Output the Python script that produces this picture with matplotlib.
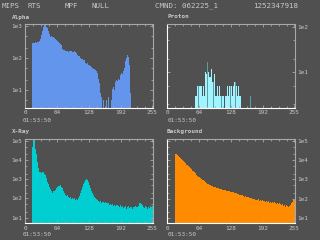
import numpy as np
import matplotlib
matplotlib.use("Agg")
import matplotlib.pyplot as plt
from matplotlib.ticker import FixedLocator, MultipleLocator, LogLocator, NullFormatter

# counts per pair of channels (128 pairs -> channels 0..255)
alpha = ([0] * 7 +
         [290, 300, 295, 310, 305, 315, 320, 330,
          400, 520, 680, 900, 1100, 1050, 950, 880, 700, 580,
          470, 490, 460, 450, 430, 400, 370, 350, 310, 285, 270, 250,
          195, 180, 175, 165, 160, 170, 158, 162, 168, 160, 155, 150, 160, 152, 145,
          125, 118, 112, 100, 95, 90, 84, 88, 72, 66, 69, 62, 60,
          56, 52, 50, 47, 45, 42, 38, 34, 22, 17, 8, 6,
          0, 5, 0, 0, 5, 0, 6, 0, 0, 5,
          11, 12, 10, 18, 20, 19, 22, 21, 30, 35, 32, 40, 50,
          80, 100, 120, 110, 60, 8] +
         [0] * 22)

proton = ([0] * 28 +
          [3, 3, 5, 0, 5, 5, 5, 3, 5, 3,
           10, 9, 0, 10, 8, 8, 12, 6, 5, 9,
           3, 3, 5, 3, 5, 3, 0, 3, 3, 0,
           3, 3, 5, 3, 5, 0, 5, 3, 5, 6,
           0, 5, 3, 5, 3, 3] +
          [0] * 54)

proton_old = ([0] * 31 + [5] + [0] * 8 + [17] + [0] * 5 + [6] + [0] * 7 + [3] +
              [0] * 8 + [5] + [0] * 4 + [6] + [0] * 14 + [3] + [0] * 44)

xray = ([0] * 7 +
        [50000, 200000, 200000, 40000, 20000, 8000, 3700, 2500,
         2300, 2200, 2500, 2400, 2000,
         1700, 1100, 760, 550, 410, 300, 245, 200,
         250, 260, 280, 340, 380, 430, 470, 500, 410, 340, 250, 185, 160, 140, 150,
         120, 105, 125, 95, 110, 90, 100, 85, 95, 80,
         100, 140, 185, 275, 410, 550, 760, 920, 1000, 920, 700, 500, 340, 255, 185,
         150, 125, 100, 94, 83,
         70, 65, 72, 60, 68, 62, 58, 65, 55, 60,
         55, 48, 52, 45, 50, 42, 48, 40, 46, 44,
         42, 38, 45, 35, 40, 33, 38, 42, 30, 36, 40, 32, 38, 35, 30, 34,
         36, 40, 34, 38, 42, 55, 60, 50, 45,
         38, 32, 40, 35, 30, 38, 33, 40, 36, 42])

background = ([0] * 8 +
              [20000, 19500, 17500, 15500, 13700, 12200, 11000, 9600, 8600, 7600,
               6700, 5900, 5300, 4700, 4200, 3700, 3300, 2900, 2600, 2300,
               2050, 1800, 1600, 1420, 1300, 1150, 1070, 960, 890, 820,
               730, 670, 620, 570, 530, 510, 470, 450, 420, 400, 390, 370, 355,
               350, 330, 340, 310, 300, 290, 295, 275, 265, 270, 250, 245,
               240, 230, 215, 225, 200, 195, 205, 180, 175, 165,
               160, 150, 155, 140, 130, 138, 125, 118, 122, 110, 105, 112, 98,
               95, 102, 88, 92, 85, 96, 80, 86, 78, 90, 75, 82, 72,
               78, 70, 74, 65, 72, 62, 68, 58, 66, 60, 55, 64, 52, 58,
               55, 48, 52, 44, 50, 40, 47, 42, 38, 45,
               50, 62, 70, 85, 90])

header = [("MIPS", 2), ("RTS", 28), ("MPF", 65), ("NULL", 92),
          ("CMND: 062225_1", 155), ("1252347918", 253)]
time_label = "01:53:50"
xticks = [0, 64, 128, 192, 255]

BG = "#505050"
TXT = "#c8c8c8"
FRAME = "#a8a8a8"
MONO = "DejaVu Sans Mono"

fig = plt.figure(figsize=(3.2, 2.4), dpi=100, facecolor=BG)
W, H = 320.0, 240.0


def add_panel(x0, y0, x1, y1):
    return fig.add_axes([x0 / W, 1 - y1 / H, (x1 - x0) / W, (y1 - y0) / H])


def ftext(x, y, s, **kw):
    fig.text(x / W, 1 - y / H, s, family=MONO, color=TXT, va="center", **kw)


def panel(box, title, tx, ty, series, colors, ylim, decades, right):
    ax = add_panel(*box)
    ax.set_facecolor(BG)
    edges = np.arange(129) * 2
    for vals, col in zip(series, colors):
        ax.stairs(vals, edges, fill=True, color=col, baseline=0, linewidth=0)
    ax.set_yscale("log")
    ax.set_xlim(0, 256)
    ax.set_ylim(*ylim)
    ax.xaxis.set_major_locator(FixedLocator(xticks))
    ax.set_xticklabels([str(t) for t in xticks])
    ax.xaxis.set_minor_locator(MultipleLocator(16))
    yt = [10 ** d for d in decades]
    ax.set_yticks(yt)
    ax.set_yticklabels(["1e%d" % d for d in decades])
    ax.yaxis.set_minor_locator(LogLocator(base=10, subs=(2.0, 5.0)))
    ax.yaxis.set_minor_formatter(NullFormatter())
    ax.tick_params(which="both", direction="in", top=True, right=True,
                   left=True, bottom=True, color=FRAME, width=0.6,
                   labelleft=not right, labelright=right)
    ax.tick_params(which="major", length=2.2, labelsize=4.3, labelcolor=TXT, pad=1.8)
    ax.tick_params(which="minor", length=1.3)
    for lab in ax.get_xticklabels() + ax.get_yticklabels():
        lab.set_family(MONO)
    for name, sp in ax.spines.items():
        sp.set_linewidth(0.8)
        sp.set_color(FRAME)
    ax.spines["bottom"].set_color("white")
    if right:
        ax.spines["left"].set_color("white")
    ftext(tx, ty, title, ha="left", fontsize=4.3, fontweight="bold")
    ftext(tx + (11 if not right else 1), ty + 103, time_label, ha="left", fontsize=4.3)
    return ax


for s, x in header:
    ftext(x, 5.5, s, ha="left", fontsize=5.4)

panel((25, 23.5, 152.5, 108), "Alpha", 12, 17, [alpha], ["#6495ed"],
      (2.74, 1200), [1, 2, 3], False)
panel((167.3, 23.5, 294.5, 108), "Proton", 167, 17, [proton, proton_old],
      ["#a0f4ff", "#5f9ea0"], (1.65, 117), [1, 2], True)
panel((25, 138.5, 152.5, 223), "X-Ray", 12, 131, [xray], ["#00ced1"],
      (5.3, 1.33e5), [1, 2, 3, 4, 5], False)
panel((167.3, 138.5, 294.5, 223), "Background", 167, 131, [background], ["#ff8c00"],
      (5.7, 1.3e5), [1, 2, 3, 4, 5], True)

fig.savefig("out.png", dpi=100, facecolor=BG)
